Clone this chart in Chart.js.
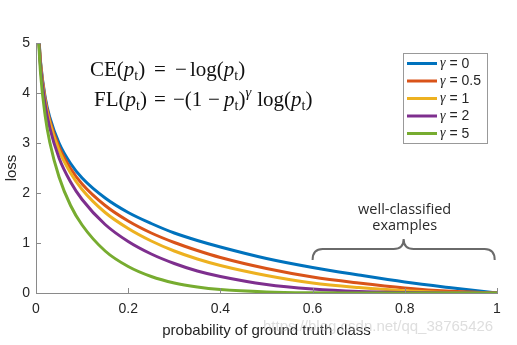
<!DOCTYPE html>
<html>
<head>
<meta charset="utf-8">
<script src="https://cdn.jsdelivr.net/npm/chart.js@4"></script>
<style>
  html, body { margin: 0; padding: 0; background: #fff; }
  #wrap { width: 517px; height: 345px; }
</style>
</head>
<body>
<div id="wrap"><canvas id="chart"></canvas></div>
<script>
// probability of ground truth class (x)
const pValues = [0.005, 0.01, 0.02, 0.03, 0.05, 0.075, 0.1, 0.15, 0.2, 0.25, 0.3, 0.35, 0.4, 0.5, 0.6, 0.7, 0.8, 0.9, 1.0];

// loss, one list per gamma
const lossG0   = [5.30, 4.61, 3.91, 3.51, 3.00, 2.59, 2.30, 1.90, 1.61, 1.39, 1.20, 1.05, 0.92, 0.69, 0.51, 0.36, 0.22, 0.105, 0];
const lossG05  = [5.28, 4.58, 3.87, 3.45, 2.92, 2.49, 2.18, 1.75, 1.44, 1.20, 1.01, 0.85, 0.71, 0.49, 0.32, 0.20, 0.10, 0.033, 0];
const lossG1   = [5.27, 4.56, 3.83, 3.40, 2.85, 2.40, 2.07, 1.61, 1.29, 1.04, 0.84, 0.68, 0.55, 0.35, 0.20, 0.11, 0.045, 0.01, 0];
const lossG2   = [5.24, 4.51, 3.76, 3.30, 2.70, 2.22, 1.87, 1.37, 1.03, 0.78, 0.59, 0.44, 0.33, 0.17, 0.08, 0.03, 0.009, 0.001, 0];
const lossG5   = [5.17, 4.38, 3.54, 3.01, 2.32, 1.75, 1.36, 0.84, 0.53, 0.33, 0.20, 0.12, 0.07, 0.022, 0.005, 0.001, 0, 0, 0];

const gammaLabels = ['0', '0.5', '1', '2', '5'];
const seriesColors = ['#0072BD', '#D95319', '#EDB120', '#7E2F8E', '#77AC30'];
const xTicks = [0, 0.2, 0.4, 0.6, 0.8, 1];
const yTicks = [0, 1, 2, 3, 4, 5];

const TEXT = '#262626';
const AXIS = '#8a8a8a';

const allSeries = [lossG0, lossG05, lossG1, lossG2, lossG5];

const datasets = allSeries.map((vals, i) => ({
    label: 'γ = ' + gammaLabels[i],
    data: pValues.map((p, k) => ({ x: p, y: vals[k] })),
    borderColor: seriesColors[i],
    backgroundColor: seriesColors[i],
    borderWidth: 3,
    pointRadius: 0,
    cubicInterpolationMode: 'monotone',
    fill: false,
    order: allSeries.length - i,
}));

// draws a run of math pieces: 'r' roman, 'i' italic, 'sub', 'sup'; returns end x
function drawMath(ctx, x, y, parts, size) {
    for (const [txt, st] of parts) {
        let fs = size, dy = 0, style = '';
        if (st === 'i') style = 'italic ';
        if (st === 'sub') { fs = size * 0.68; dy = size * 0.2; }
        if (st === 'sup') { fs = size * 0.7; dy = -size * 0.42; style = 'italic '; }
        ctx.font = style + fs + 'px "Liberation Serif", serif';
        ctx.fillText(txt, x, y + dy);
        x += ctx.measureText(txt).width;
    }
    return x;
}

// inward tick marks, equations, legend box, brace, watermark
const decorations = {
    id: 'decorations',
    afterDatasetsDraw(chart) {
        const { ctx, chartArea: a, scales: { x, y } } = chart;
        ctx.save();

        // inward ticks
        ctx.strokeStyle = AXIS;
        ctx.lineWidth = 1;
        ctx.beginPath();
        xTicks.forEach(v => {
            const px = Math.round(x.getPixelForValue(v)) + 0.5;
            ctx.moveTo(px, a.bottom); ctx.lineTo(px, a.bottom - 5);
        });
        yTicks.forEach(v => {
            const py = Math.round(y.getPixelForValue(v)) + 0.5;
            ctx.moveTo(a.left, py); ctx.lineTo(a.left + 5, py);
        });
        ctx.stroke();

        // equations, aligned on the = sign
        const fs = 21;
        ctx.fillStyle = '#111';
        ctx.textBaseline = 'alphabetic';
        ctx.textAlign = 'left';
        drawMath(ctx, 90, 76, [['CE(', 'r'], ['p', 'i'], ['t', 'sub'], [')', 'r']], fs);
        drawMath(ctx, 154, 76, [['=', 'r']], fs);
        drawMath(ctx, 175, 76, [['\u2212', 'r']], fs);
        drawMath(ctx, 190, 76, [['log(', 'r'], ['p', 'i'], ['t', 'sub'], [')', 'r']], fs);

        drawMath(ctx, 94, 106, [['FL(', 'r'], ['p', 'i'], ['t', 'sub'], [')', 'r']], fs);
        drawMath(ctx, 154, 106, [['=', 'r']], fs);
        drawMath(ctx, 173, 106, [['\u2212(1', 'r']], fs);
        drawMath(ctx, 208, 106, [['\u2212', 'r']], fs);
        const e = drawMath(ctx, 224, 106, [['p', 'i'], ['t', 'sub'], [')', 'r'], ['\u03B3', 'sup']], fs);
        drawMath(ctx, e + 6, 106, [['log(', 'r'], ['p', 'i'], ['t', 'sub'], [')', 'r']], fs);

        // legend
        ctx.fillStyle = '#fff';
        ctx.fillRect(403.5, 53.5, 84, 90);
        ctx.strokeStyle = '#999';
        ctx.lineWidth = 1;
        ctx.strokeRect(403.5, 53.5, 84, 90);
        chart.data.datasets.forEach((ds, i) => {
            const ry = 63.5 + i * 17.5;
            ctx.strokeStyle = ds.borderColor;
            ctx.lineWidth = 3;
            ctx.beginPath();
            ctx.moveTo(407, ry); ctx.lineTo(437, ry);
            ctx.stroke();
            ctx.fillStyle = TEXT;
            ctx.textBaseline = 'middle';
            ctx.font = 'italic 14px "Liberation Serif", serif';
            ctx.fillText('\u03B3', 440, ry);
            const gw = ctx.measureText('\u03B3').width;
            ctx.font = '14px "Liberation Sans", Arial, sans-serif';
            ctx.fillText(' = ' + gammaLabels[i], 440 + gw, ry + 0.5);
        });

        // brace over the well-classified region
        const xl = x.getPixelForValue(0.6), xr = x.getPixelForValue(0.995);
        const xc = (xl + xr) / 2;
        const yEnd = y.getPixelForValue(0.66), yMid = y.getPixelForValue(0.88), yTip = y.getPixelForValue(1.08);
        const r = 10;
        ctx.strokeStyle = '#6a6a6a';
        ctx.lineWidth = 2;
        ctx.beginPath();
        ctx.moveTo(xl, yEnd);
        ctx.quadraticCurveTo(xl, yMid, xl + r, yMid);
        ctx.lineTo(xc - r, yMid);
        ctx.quadraticCurveTo(xc, yMid, xc, yTip);
        ctx.quadraticCurveTo(xc, yMid, xc + r, yMid);
        ctx.lineTo(xr - r, yMid);
        ctx.quadraticCurveTo(xr, yMid, xr, yEnd);
        ctx.stroke();

        ctx.fillStyle = '#2a2a2a';
        ctx.textAlign = 'center';
        ctx.textBaseline = 'middle';
        ctx.font = '14.5px "Open Sans", sans-serif';
        ctx.fillText('well-classified', xc + 1, 210);
        ctx.fillText('examples', xc + 1, 226);

        // watermark
        ctx.textAlign = 'left';
        ctx.fillStyle = 'rgba(190,190,190,0.5)';
        ctx.font = '15px "Liberation Sans", Arial, sans-serif';
        ctx.fillText('https://blog.csdn.net/qq_38765426', 263, 327);

        ctx.restore();
    }
};

new Chart(document.getElementById('chart'), {
    type: 'line',
    data: { datasets },
    options: {
        responsive: true,
        maintainAspectRatio: false,
        animation: false,
        layout: { padding: { left: 0, top: 43, right: 20, bottom: 0 } },
        plugins: {
            legend: { display: false },
            tooltip: { enabled: false },
        },
        scales: {
            x: {
                type: 'linear',
                min: 0, max: 1,
                afterBuildTicks: s => { s.ticks = xTicks.map(v => ({ value: v })); },
                afterFit: s => { s.height = 52; },
                ticks: {
                    color: TEXT,
                    font: { family: '"Liberation Sans", Arial, sans-serif', size: 14 },
                    padding: 8,
                    maxRotation: 0,
                    callback: v => String(+v.toFixed(1)),
                },
                grid: { display: false, drawTicks: false },
                border: { display: true, color: AXIS, width: 1 },
                title: {
                    display: true,
                    text: 'probability of ground truth class',
                    color: TEXT,
                    font: { family: '"Liberation Sans", Arial, sans-serif', size: 15 },
                    padding: { top: 0, bottom: 5 },
                },
            },
            y: {
                min: 0, max: 5,
                afterBuildTicks: s => { s.ticks = yTicks.map(v => ({ value: v })); },
                afterFit: s => { s.width = 36; },
                ticks: {
                    color: TEXT,
                    font: { family: '"Liberation Sans", Arial, sans-serif', size: 14 },
                    padding: 6,
                },
                grid: { display: false, drawTicks: false },
                border: { display: true, color: AXIS, width: 1 },
                title: {
                    display: true,
                    text: 'loss',
                    color: TEXT,
                    font: { family: '"Liberation Sans", Arial, sans-serif', size: 15 },
                    padding: { top: 3, bottom: 0 },
                },
            },
        },
    },
    plugins: [decorations],
});
</script>
</body>
</html>
